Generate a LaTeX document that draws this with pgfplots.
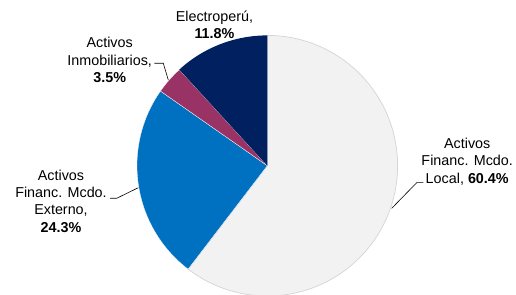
\documentclass[border=0pt]{standalone}
\usepackage{pgfplots}
\pgfplotsset{compat=1.18}
\usepackage{fontspec}
\setmainfont{Liberation Sans}
\definecolor{cLocal}{HTML}{F2F2F2}
\definecolor{cLocalEdge}{HTML}{D4D4D4}
\definecolor{cExt}{HTML}{0070C0}
\definecolor{cInm}{HTML}{993366}
\definecolor{cElec}{HTML}{002060}
\tikzset{lbl/.style={font=\fontsize{14.4}{17.3}\selectfont, align=center, inner sep=0pt}}
\begin{document}
\begin{tikzpicture}
% data (percent)
\def\vLocal{60.4}\def\vExt{24.3}\def\vInm{3.5}\def\vElec{11.8}
\pgfmathsetmacro\aA{90}
\pgfmathsetmacro\aB{\aA-3.6*\vLocal}
\pgfmathsetmacro\aC{\aB-3.6*\vExt}
\pgfmathsetmacro\aD{\aC-3.6*\vInm}
\pgfmathsetmacro\aE{\aD-3.6*\vElec}
\def\R{130.3bp}
\begin{axis}[scale only axis, width=516bp, height=295bp,
  xmin=0, xmax=516, ymin=0, ymax=295, hide axis, clip=false]
\path (axis cs:0,0) rectangle (axis cs:516,295);
\begin{scope}
\clip (axis cs:0,0) rectangle (axis cs:516,295);
\filldraw[fill=cLocal, draw=cLocalEdge, line width=0.7pt] (axis cs:267.3,129.3) -- ++(\aA:\R) arc[start angle=\aA, end angle=\aB, radius=\R] -- cycle;
\filldraw[fill=cExt, draw=white, line width=0.3pt] (axis cs:267.3,129.3) -- ++(\aB:\R) arc[start angle=\aB, end angle=\aC, radius=\R] -- cycle;
\filldraw[fill=cInm, draw=white, line width=0.3pt] (axis cs:267.3,129.3) -- ++(\aC:\R) arc[start angle=\aC, end angle=\aD, radius=\R] -- cycle;
\fill[cElec] (axis cs:267.3,129.3) -- ++(\aD:\R) arc[start angle=\aD, end angle=\aE, radius=\R] -- cycle;
\end{scope}
% labels
\node[lbl] at (axis cs:214.5,270.0) {Electroperú,\\\textbf{11.8\%}};
\node[lbl] at (axis cs:109.7,235.0) {Activos\\Inmobiliarios,\\\textbf{3.5\%}};
\node[lbl] at (axis cs:61.0,93.8) {Activos\\Financ. Mcdo.\\Externo,\\\textbf{24.3\%}};
\node[lbl] at (axis cs:467.2,133.3) {Activos\\Financ. Mcdo.\\Local, \textbf{60.4\%}};
% leader lines
\draw[line width=0.6pt] (axis cs:154.3,231.7) -- (axis cs:163.3,231.7) -- (axis cs:168.3,215.0);
\draw[line width=0.6pt] (axis cs:110.0,96.7) -- (axis cs:116.7,96.7) -- (axis cs:138.3,107.3);
\draw[line width=0.6pt] (axis cs:423.3,112.3) -- (axis cs:416.7,112.3) -- (axis cs:391.7,86.7);
\end{axis}
\end{tikzpicture}
\end{document}
